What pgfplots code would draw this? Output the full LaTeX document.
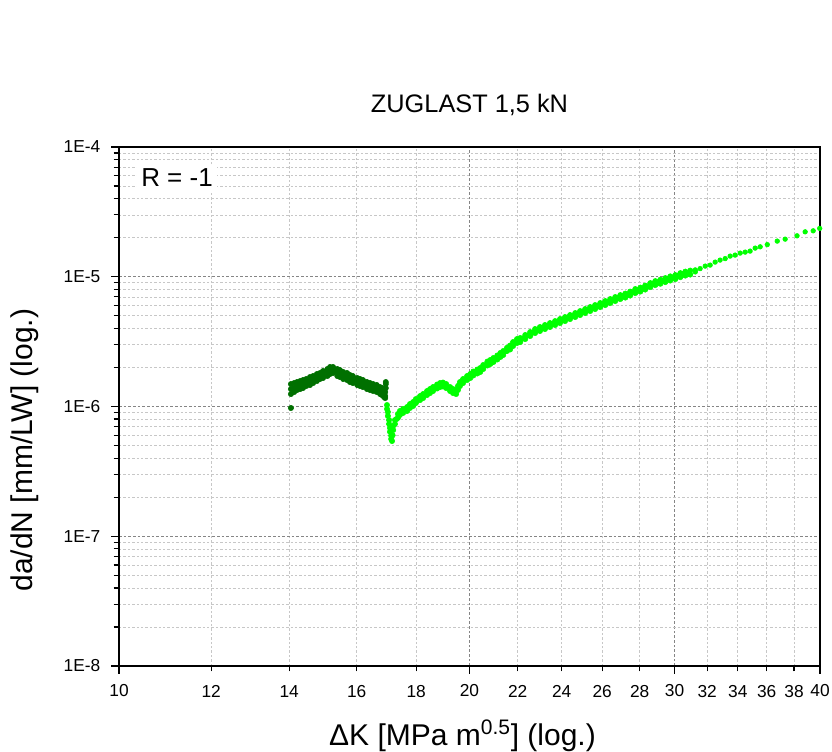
\documentclass[border=0pt]{standalone}
\usepackage{pgfplots}
\pgfplotsset{compat=1.18}
\usepackage{fontspec}
\setmainfont{Liberation Sans}
\definecolor{dkgreen}{HTML}{007000}
\definecolor{ltgreen}{HTML}{00FF00}
\pgfplotstableread{
x y
14.05 0.974e-6
14.05 1.490e-6
14.05 1.364e-6
14.05 1.248e-6
14.14 1.517e-6
14.14 1.388e-6
14.14 1.293e-6
14.22 1.544e-6
14.22 1.438e-6
14.22 1.340e-6
14.31 1.572e-6
14.31 1.464e-6
14.31 1.364e-6
14.39 1.600e-6
14.39 1.490e-6
14.39 1.388e-6
14.48 1.629e-6
14.48 1.517e-6
14.48 1.438e-6
14.59 1.688e-6
14.59 1.572e-6
14.59 1.464e-6
14.68 1.718e-6
14.68 1.600e-6
14.68 1.517e-6
14.79 1.780e-6
14.79 1.658e-6
14.79 1.572e-6
14.88 1.812e-6
14.88 1.718e-6
14.88 1.629e-6
14.97 1.877e-6
14.97 1.780e-6
14.97 1.658e-6
15.10 1.946e-6
15.10 1.845e-6
15.10 1.718e-6
15.18 2.016e-6
15.18 1.911e-6
15.18 1.780e-6
15.27 2.016e-6
15.27 1.911e-6
15.27 1.812e-6
15.40 1.946e-6
15.40 1.845e-6
15.40 1.718e-6
15.48 1.911e-6
15.48 1.812e-6
15.48 1.688e-6
15.58 1.845e-6
15.58 1.749e-6
15.58 1.629e-6
15.70 1.812e-6
15.70 1.688e-6
15.70 1.600e-6
15.79 1.749e-6
15.79 1.658e-6
15.79 1.544e-6
15.88 1.718e-6
15.88 1.600e-6
15.88 1.517e-6
16.02 1.658e-6
16.02 1.572e-6
16.02 1.464e-6
16.11 1.629e-6
16.11 1.517e-6
16.11 1.438e-6
16.20 1.600e-6
16.20 1.490e-6
16.20 1.413e-6
16.33 1.544e-6
16.33 1.464e-6
16.33 1.364e-6
16.43 1.517e-6
16.43 1.438e-6
16.43 1.340e-6
16.53 1.490e-6
16.53 1.388e-6
16.53 1.316e-6
16.65 1.464e-6
16.65 1.364e-6
16.65 1.293e-6
16.76 1.413e-6
16.76 1.340e-6
16.76 1.248e-6
16.82 1.388e-6
16.82 1.293e-6
16.82 1.226e-6
16.89 1.340e-6
16.89 1.248e-6
16.89 1.184e-6
16.93 1.293e-6
16.93 1.204e-6
16.93 1.162e-6
16.95 1.544e-6
16.95 1.490e-6
16.95 1.388e-6
}\darkdata
\pgfplotstableread{
x y
16.99 1.027e-6
16.99 0.957e-6
17.02 0.908e-6
17.02 0.846e-6
17.06 0.787e-6
17.06 0.734e-6
17.09 0.685e-6
17.09 0.639e-6
17.13 0.596e-6
17.13 0.562e-6
17.16 0.542e-6
17.18 0.600e-6
17.20 0.709e-6
17.20 0.659e-6
17.26 0.787e-6
17.26 0.734e-6
17.31 0.800e-6
17.36 0.876e-6
17.36 0.817e-6
17.40 0.870e-6
17.43 0.924e-6
17.43 0.860e-6
17.49 0.910e-6
17.54 0.957e-6
17.54 0.892e-6
17.61 0.940e-6
17.68 0.991e-6
17.68 0.924e-6
17.73 0.985e-6
17.78 1.045e-6
17.78 0.974e-6
17.84 1.025e-6
17.89 1.083e-6
17.89 1.009e-6
17.94 1.070e-6
17.99 1.142e-6
17.99 1.064e-6
18.07 1.130e-6
18.14 1.204e-6
18.14 1.122e-6
18.20 1.185e-6
18.25 1.248e-6
18.25 1.162e-6
18.32 1.235e-6
18.39 1.316e-6
18.39 1.226e-6
18.45 1.290e-6
18.50 1.364e-6
18.50 1.270e-6
18.56 1.340e-6
18.61 1.413e-6
18.61 1.316e-6
18.69 1.395e-6
18.76 1.477e-6
18.76 1.376e-6
18.82 1.445e-6
18.87 1.517e-6
18.87 1.413e-6
18.93 1.470e-6
18.98 1.530e-6
18.98 1.426e-6
19.04 1.460e-6
19.10 1.490e-6
19.10 1.388e-6
19.18 1.400e-6
19.25 1.413e-6
19.25 1.316e-6
19.30 1.340e-6
19.36 1.364e-6
19.36 1.270e-6
19.42 1.300e-6
19.48 1.340e-6
19.48 1.248e-6
19.55 1.438e-6
19.55 1.340e-6
19.59 1.460e-6
19.63 1.544e-6
19.63 1.438e-6
19.69 1.530e-6
19.75 1.629e-6
19.75 1.517e-6
19.83 1.615e-6
19.91 1.718e-6
19.91 1.600e-6
19.97 1.690e-6
20.03 1.780e-6
20.03 1.658e-6
20.09 1.760e-6
20.15 1.861e-6
20.15 1.733e-6
20.23 1.830e-6
20.31 1.928e-6
20.31 1.796e-6
20.37 1.890e-6
20.43 1.981e-6
20.43 1.845e-6
20.49 1.960e-6
20.55 2.089e-6
20.55 1.946e-6
20.63 2.080e-6
20.72 2.222e-6
20.72 2.070e-6
20.78 2.170e-6
20.84 2.283e-6
20.84 2.127e-6
20.90 2.250e-6
20.97 2.366e-6
20.97 2.204e-6
21.05 2.330e-6
21.13 2.472e-6
21.13 2.303e-6
21.19 2.450e-6
21.26 2.587e-6
21.26 2.408e-6
21.32 2.540e-6
21.38 2.678e-6
21.38 2.494e-6
21.46 2.660e-6
21.54 2.834e-6
21.54 2.678e-6
21.60 2.790e-6
21.67 2.952e-6
21.67 2.750e-6
21.73 2.940e-6
21.80 3.140e-6
21.80 2.926e-6
21.88 3.110e-6
21.97 3.312e-6
21.97 3.087e-6
22.04 3.220e-6
22.11 3.372e-6
22.11 3.140e-6
22.22 3.340e-6
22.33 3.556e-6
22.33 3.312e-6
22.44 3.530e-6
22.55 3.751e-6
22.55 3.494e-6
22.66 3.710e-6
22.77 3.956e-6
22.77 3.685e-6
22.88 3.880e-6
22.99 4.099e-6
22.99 3.818e-6
23.10 4.040e-6
23.22 4.246e-6
23.22 3.956e-6
23.33 4.160e-6
23.45 4.397e-6
23.45 4.099e-6
23.57 4.330e-6
23.69 4.557e-6
23.69 4.246e-6
23.80 4.470e-6
23.92 4.722e-6
23.92 4.397e-6
24.04 4.650e-6
24.16 4.893e-6
24.16 4.557e-6
24.28 4.800e-6
24.40 5.069e-6
24.40 4.722e-6
24.52 4.990e-6
24.65 5.252e-6
24.65 4.893e-6
24.77 5.150e-6
24.89 5.441e-6
24.89 5.069e-6
25.01 5.360e-6
25.14 5.638e-6
25.14 5.252e-6
25.26 5.530e-6
25.39 5.842e-6
25.39 5.441e-6
25.51 5.760e-6
25.64 6.052e-6
25.64 5.638e-6
25.77 5.930e-6
25.90 6.271e-6
25.90 5.842e-6
26.03 6.170e-6
26.16 6.497e-6
26.16 6.052e-6
26.29 6.370e-6
26.42 6.733e-6
26.42 6.271e-6
26.55 6.620e-6
26.68 6.976e-6
26.68 6.497e-6
26.81 6.840e-6
26.95 7.226e-6
26.95 6.733e-6
27.08 7.080e-6
27.22 7.42e-6
27.22 6.91e-6
27.35 7.28e-6
27.48 7.69e-6
27.48 7.16e-6
27.62 7.60e-6
27.76 8.04e-6
27.76 7.49e-6
27.90 7.85e-6
28.04 8.25e-6
28.04 7.69e-6
28.17 8.12e-6
28.31 8.55e-6
28.31 7.97e-6
28.45 8.42e-6
28.60 8.94e-6
28.60 8.33e-6
28.74 8.78e-6
28.88 9.26e-6
28.88 8.63e-6
29.02 9.05e-6
29.17 9.48e-6
29.17 8.83e-6
29.31 9.30e-6
29.46 9.77e-6
29.46 9.10e-6
29.60 9.58e-6
29.75 10.07e-6
29.75 9.35e-6
29.90 9.82e-6
30.05 10.30e-6
30.05 9.60e-6
30.20 10.12e-6
30.35 10.67e-6
30.35 9.94e-6
30.50 10.44e-6
30.65 10.96e-6
30.65 10.21e-6
30.80 10.68e-6
30.95 11.16e-6
30.95 10.40e-6
}\lightdata
\pgfplotstableread{
x y
31.26 11.30e-6
31.26 10.90e-6
31.56 11.56e-6
31.88 12.08e-6
32.19 12.30e-6
32.51 12.97e-6
32.83 13.44e-6
33.16 13.80e-6
33.49 14.43e-6
33.82 14.69e-6
34.16 15.22e-6
34.50 15.49e-6
34.84 15.77e-6
35.19 16.63e-6
35.54 17.02e-6
36.04 17.70e-6
36.76 18.83e-6
37.34 19.50e-6
38.23 20.68e-6
38.85 22.20e-6
39.47 22.60e-6
39.98 23.60e-6
}\taildata
\begin{document}
\begin{tikzpicture}
\path[use as bounding box] (-89.25pt,-63.75pt) rectangle (534.75pt,499.5pt);
\begin{axis}[
  at={(0pt,0pt)}, anchor=south west,
  scale only axis, width=525.75pt, height=389.25pt,
  xmode=log, ymode=log,
  xmin=10, xmax=40, ymin=1e-8, ymax=1e-4,
  xtick={10,20,30,40}, xticklabels={10,20,30,40},
  minor xtick={12,14,16,18,22,24,26,28,32,34,36,38},
  extra x ticks={12,14,16,18,22,24,26,28,32,34,36,38},
  extra x tick labels={12,14,16,18,22,24,26,28,32,34,36,38},
  extra x tick style={major tick length=0pt, grid=none, xticklabel style={yshift=-6.75pt}},
  ytick={1e-8,1e-7,1e-6,1e-5,1e-4},
  yticklabels={1E-8,1E-7,1E-6,1E-5,1E-4},
  minor ytick={2e-8,3e-8,4e-8,5e-8,6e-8,7e-8,8e-8,9e-8,
               2e-7,3e-7,4e-7,5e-7,6e-7,7e-7,8e-7,9e-7,
               2e-6,3e-6,4e-6,5e-6,6e-6,7e-6,8e-6,9e-6,
               2e-5,3e-5,4e-5,5e-5,6e-5,7e-5,8e-5,9e-5},
  grid=both,
  major grid style={black!48, line width=0.5pt, dash pattern=on 2pt off 1.5pt},
  minor grid style={black!22, line width=0.5pt, dash pattern=on 1.8pt off 1.5pt},
  tick align=outside, tick pos=left,
  major tick length=6pt, minor tick length=4pt,
  every tick/.style={black, line width=0.9pt},
  axis line style={black, line width=1.4pt},
  ticklabel style={font=\fontsize{13}{13}\selectfont},
  xticklabel style={yshift=-4.5pt},
  yticklabel style={xshift=-4.5pt},
  title={ZUGLAST 1,5 kN},
  title style={at={(axis description cs:0.5,1)}, anchor=base, yshift=20.25pt, font=\fontsize{19}{19}\selectfont},
  xlabel={ΔK [MPa m\textsuperscript{0.5}] (log.)},
  xlabel style={at={(axis description cs:0.49,0)}, anchor=base, yshift=-59.25pt, font=\fontsize{22.5}{22.5}\selectfont},
  ylabel={da/dN [mm/LW] (log.)},
  ylabel style={at={(axis description cs:-0.1341,0.416)}, anchor=center, font=\fontsize{22.5}{22.5}\selectfont},
]
\addplot[only marks, mark=*, mark size=2pt, color=dkgreen, mark options={fill=dkgreen, draw=dkgreen}] table[x=x, y=y] {\darkdata};
\addplot[only marks, mark=*, mark size=2pt, color=ltgreen, mark options={fill=ltgreen, draw=ltgreen}] table[x=x, y=y] {\lightdata};
\addplot[only marks, mark=*, mark size=1.75pt, color=ltgreen, mark options={fill=ltgreen, draw=ltgreen}] table[x=x, y=y] {\taildata};
\end{axis}
\node[anchor=base west, fill=white, inner sep=3pt, font=\fontsize{19.5}{19.5}\selectfont] at (13.5pt,359.25pt) {R = -1};
\end{tikzpicture}
\end{document}
